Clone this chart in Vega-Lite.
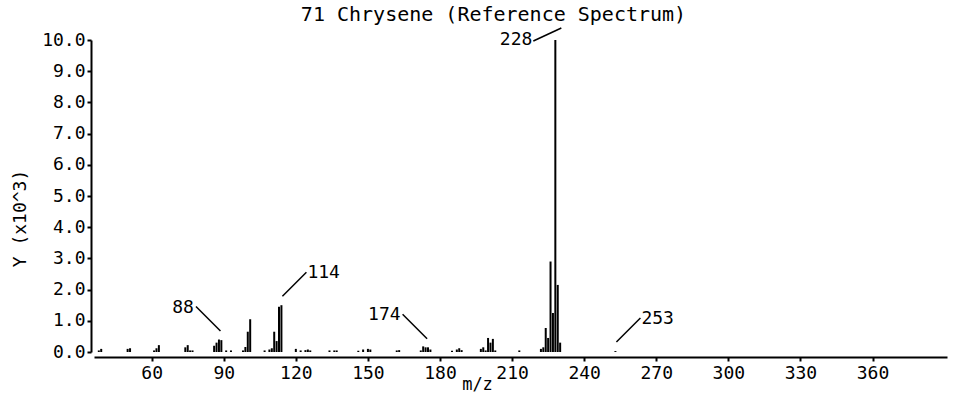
{
  "$schema": "https://vega.github.io/schema/vega-lite/v6.json",
  "width": 853,
  "height": 312,
  "autosize": {"type": "none"},
  "padding": {"left": 94, "top": 40, "right": 14, "bottom": 44},
  "background": "white",
  "config": {
    "view": {"stroke": null},
    "font": "DejaVu Sans Mono",
    "axis": {
      "grid": false,
      "labelFont": "DejaVu Sans Mono",
      "labelFontSize": 18,
      "labelColor": "black",
      "titleFont": "DejaVu Sans Mono",
      "titleFontSize": 18,
      "titleFontWeight": "normal",
      "titleColor": "black",
      "domainColor": "black",
      "tickColor": "black",
      "domainWidth": 2,
      "tickWidth": 2,
      "labelOverlap": false
    }
  },
  "title": {
    "text": "71 Chrysene (Reference Spectrum)",
    "font": "DejaVu Sans Mono",
    "fontSize": 20,
    "fontWeight": "normal",
    "color": "black",
    "anchor": "middle",
    "dx": -27,
    "offset": 2
  },
  "datasets": {
    "peaks": [
      {"mz": 38, "intensity": 0.05},
      {"mz": 39, "intensity": 0.1},
      {"mz": 50, "intensity": 0.1},
      {"mz": 51, "intensity": 0.12},
      {"mz": 61, "intensity": 0.05},
      {"mz": 62, "intensity": 0.12},
      {"mz": 63, "intensity": 0.22},
      {"mz": 74, "intensity": 0.15},
      {"mz": 75, "intensity": 0.22},
      {"mz": 76, "intensity": 0.05},
      {"mz": 77, "intensity": 0.05},
      {"mz": 86, "intensity": 0.2},
      {"mz": 87, "intensity": 0.3},
      {"mz": 88, "intensity": 0.4},
      {"mz": 89, "intensity": 0.38},
      {"mz": 91, "intensity": 0.05},
      {"mz": 93, "intensity": 0.05},
      {"mz": 98, "intensity": 0.05},
      {"mz": 99, "intensity": 0.16},
      {"mz": 100, "intensity": 0.65},
      {"mz": 101, "intensity": 1.05},
      {"mz": 107, "intensity": 0.05},
      {"mz": 109, "intensity": 0.08},
      {"mz": 110, "intensity": 0.12},
      {"mz": 111, "intensity": 0.65},
      {"mz": 112, "intensity": 0.35},
      {"mz": 113, "intensity": 1.45},
      {"mz": 114, "intensity": 1.5},
      {"mz": 120, "intensity": 0.1},
      {"mz": 122, "intensity": 0.05},
      {"mz": 124, "intensity": 0.06},
      {"mz": 125, "intensity": 0.08},
      {"mz": 126, "intensity": 0.05},
      {"mz": 134, "intensity": 0.05},
      {"mz": 136, "intensity": 0.05},
      {"mz": 137, "intensity": 0.05},
      {"mz": 146, "intensity": 0.04},
      {"mz": 148, "intensity": 0.08},
      {"mz": 150, "intensity": 0.1},
      {"mz": 151, "intensity": 0.08},
      {"mz": 162, "intensity": 0.05},
      {"mz": 163, "intensity": 0.06},
      {"mz": 172, "intensity": 0.05},
      {"mz": 173, "intensity": 0.18},
      {"mz": 174, "intensity": 0.15},
      {"mz": 175, "intensity": 0.15},
      {"mz": 176, "intensity": 0.08},
      {"mz": 185, "intensity": 0.04},
      {"mz": 187, "intensity": 0.08},
      {"mz": 188, "intensity": 0.12},
      {"mz": 189, "intensity": 0.06},
      {"mz": 197, "intensity": 0.1},
      {"mz": 198, "intensity": 0.15},
      {"mz": 199, "intensity": 0.05},
      {"mz": 200, "intensity": 0.45},
      {"mz": 201, "intensity": 0.3},
      {"mz": 202, "intensity": 0.42},
      {"mz": 203, "intensity": 0.05},
      {"mz": 213, "intensity": 0.05},
      {"mz": 222, "intensity": 0.1},
      {"mz": 223, "intensity": 0.15},
      {"mz": 224, "intensity": 0.77},
      {"mz": 225, "intensity": 0.45},
      {"mz": 226, "intensity": 2.9},
      {"mz": 227, "intensity": 1.25},
      {"mz": 228, "intensity": 10.0},
      {"mz": 229, "intensity": 2.15},
      {"mz": 230, "intensity": 0.3},
      {"mz": 253, "intensity": 0.03}
    ],
    "labels": [
      {"mz": 88, "intensity": 0.4, "label": "88", "side": "left"},
      {"mz": 174, "intensity": 0.15, "label": "174", "side": "left"},
      {"mz": 114, "intensity": 1.5, "label": "114", "side": "right"},
      {"mz": 253, "intensity": 0.03, "label": "253", "side": "right"},
      {"mz": 228, "intensity": 10.0, "label": "228", "side": "top"}
    ]
  },
  "encoding": {
    "x": {
      "field": "mz",
      "type": "quantitative",
      "scale": {"domain": [36, 391], "nice": false, "zero": false},
      "axis": {
        "values": [60, 90, 120, 150, 180, 210, 240, 270, 300, 330, 360],
        "tickSize": 4,
        "labelPadding": 3,
        "offset": 5,
        "labelFlush": false,
        "title": "m/z",
        "titleFontSize": 17,
        "titleX": 383,
        "titleY": 19,
        "titleAlign": "center",
        "titleBaseline": "top"
      }
    },
    "y": {
      "field": "intensity",
      "type": "quantitative",
      "scale": {"domain": [0, 10], "nice": false},
      "axis": {
        "values": [0, 1, 2, 3, 4, 5, 6, 7, 8, 9, 10],
        "tickCount": 11,
        "format": ".1f",
        "tickSize": 4,
        "labelPadding": 2,
        "offset": 3,
        "title": "Y (x10^3)",
        "titleX": -71,
        "titleY": 178,
        "titleAngle": 270,
        "titleAlign": "center",
        "titleBaseline": "middle"
      }
    }
  },
  "layer": [
    {
      "data": {"name": "peaks"},
      "mark": {"type": "rule", "strokeWidth": 2, "color": "black"},
      "encoding": {
        "y2": {"datum": 0}
      }
    },
    {
      "data": {"name": "labels"},
      "transform": [{"filter": "datum.side === 'left'"}],
      "mark": {"type": "rule", "strokeWidth": 1.5, "color": "black", "xOffset": 1.5, "yOffset": -8.5, "x2Offset": -23, "y2Offset": -33},
      "encoding": {
        "x2": {"field": "mz"},
        "y2": {"field": "intensity"}
      }
    },
    {
      "data": {"name": "labels"},
      "transform": [{"filter": "datum.side === 'left'"}],
      "mark": {"type": "text", "align": "right", "baseline": "middle", "dx": -25, "dy": -32, "fontSize": 18, "font": "DejaVu Sans Mono", "color": "black"},
      "encoding": {
        "text": {"field": "label"}
      }
    },
    {
      "data": {"name": "labels"},
      "transform": [{"filter": "datum.side === 'right'"}],
      "mark": {"type": "rule", "strokeWidth": 1.5, "color": "black", "xOffset": 1, "yOffset": -9, "x2Offset": 25, "y2Offset": -33},
      "encoding": {
        "x2": {"field": "mz"},
        "y2": {"field": "intensity"}
      }
    },
    {
      "data": {"name": "labels"},
      "transform": [{"filter": "datum.side === 'right'"}],
      "mark": {"type": "text", "align": "left", "baseline": "middle", "dx": 26, "dy": -32, "fontSize": 18, "font": "DejaVu Sans Mono", "color": "black"},
      "encoding": {
        "text": {"field": "label"}
      }
    },
    {
      "data": {"name": "labels"},
      "transform": [{"filter": "datum.side === 'top'"}],
      "mark": {"type": "rule", "strokeWidth": 1.5, "color": "black", "xOffset": -22, "yOffset": 1, "x2Offset": 6, "y2Offset": -12},
      "encoding": {
        "x2": {"field": "mz"},
        "y2": {"field": "intensity"}
      }
    },
    {
      "data": {"name": "labels"},
      "transform": [{"filter": "datum.side === 'top'"}],
      "mark": {"type": "text", "align": "right", "baseline": "middle", "dx": -23, "dy": 0, "fontSize": 18, "font": "DejaVu Sans Mono", "color": "black"},
      "encoding": {
        "text": {"field": "label"}
      }
    }
  ]
}
